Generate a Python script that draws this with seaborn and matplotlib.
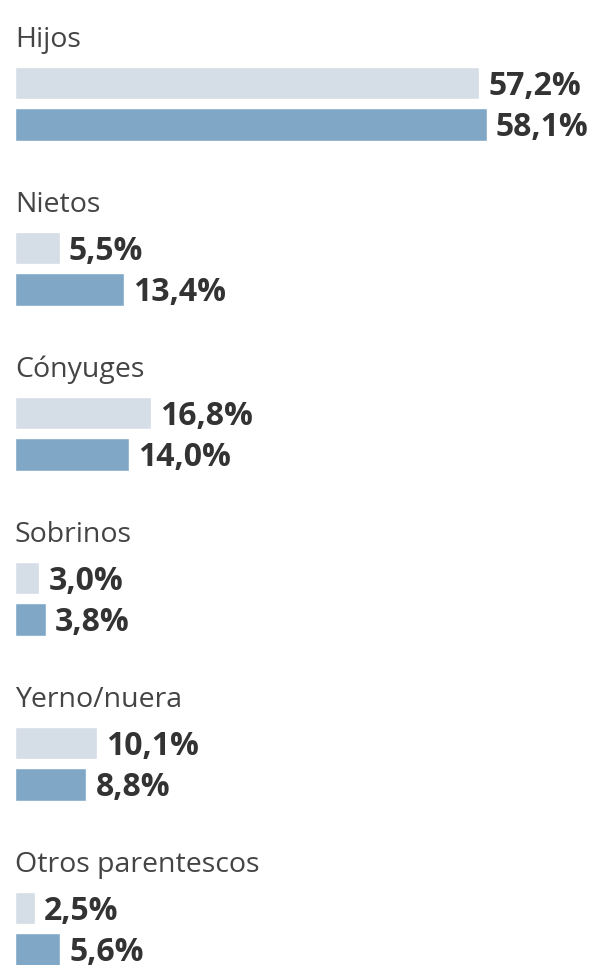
import pandas as pd
import matplotlib.pyplot as plt
import seaborn as sns

# Datos
categorias = ["Hijos", "Nietos", "Cónyuges", "Sobrinos", "Yerno/nuera", "Otros parentescos"]
serie_a = [57.2, 5.5, 16.8, 3.0, 10.1, 2.5]
serie_b = [58.1, 13.4, 14.0, 3.8, 8.8, 5.6]
series = ["a", "b"]

COLOR_A = "#d5dde6"
COLOR_B = "#80a8c6"
TEXTO = "#333333"
FUENTE = ["Open Sans", "DejaVu Sans"]

# Cada grupo ocupa 4 filas: etiqueta, barra a, barra b, hueco
orden = []
filas = []
for i, cat in enumerate(categorias):
    orden += [f"{i}_lab", f"{i}_a", f"{i}_b", f"{i}_gap"]
    filas.append({"fila": f"{i}_a", "valor": serie_a[i], "serie": "a"})
    filas.append({"fila": f"{i}_b", "valor": serie_b[i], "serie": "b"})
df = pd.DataFrame(filas)

sns.set_theme(style="white")
plt.rcParams["font.family"] = FUENTE

fig = plt.figure(figsize=(5.99, 9.65), dpi=100)
ax = fig.add_axes([0, 0, 1, 1])

sns.barplot(data=df, y="fila", x="valor", hue="serie", order=orden,
            palette={"a": COLOR_A, "b": COLOR_B}, dodge=False, saturation=1,
            width=0.78, orient="h", legend=False, ax=ax)

for i, cat in enumerate(categorias):
    ax.text(0, orden.index(f"{i}_lab") + 0.12, cat, ha="left", va="baseline",
            fontsize=20.5, color="#444444", family=FUENTE)

for _, r in df.iterrows():
    etiqueta = f"{r['valor']:.1f}".replace(".", ",") + "%"
    ax.text(r["valor"] + 1.1, orden.index(r["fila"]) + 0.28, etiqueta,
            ha="left", va="baseline", fontsize=23, fontweight="bold",
            color=TEXTO, family=FUENTE)

# 0 en x=15px, ~8.12 px por punto; fila 0 en y=42px, 41.25 px por fila
ax.set_xlim(-15 / 8.12, (599 - 15) / 8.12)
ax.set_ylim((965 - 42) / 41.25, -42 / 41.25)
ax.set_axis_off()

fig.savefig("out.png", dpi=100)
plt.close(fig)
